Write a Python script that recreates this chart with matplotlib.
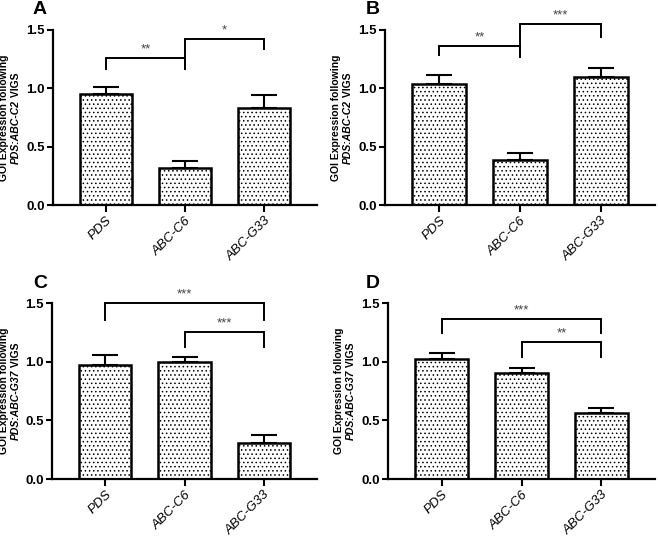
import matplotlib
matplotlib.use('Agg')
import matplotlib.pyplot as plt
import numpy as np

plt.rcParams['font.family'] = ['Liberation Sans', 'DejaVu Sans']
plt.rcParams['hatch.color'] = '#b0b0b0'
plt.rcParams['hatch.linewidth'] = 0.6

groups = ['PDS', 'ABC-C6', 'ABC-G33']

mean_a = [0.95, 0.315, 0.83]
err_a = [0.06, 0.065, 0.11]
mean_b = [1.04, 0.39, 1.10]
err_b = [0.075, 0.06, 0.075]
mean_c = [0.97, 1.00, 0.31]
err_c = [0.09, 0.04, 0.065]
mean_d = [1.02, 0.905, 0.56]
err_d = [0.05, 0.04, 0.045]

# brackets: (left, right, top, left leg end, right leg end, stars)
sig_a = [(0, 1, 1.26, 1.165, 1.165, '**'), (1, 2, 1.42, 1.165, 1.34, '*')]
sig_b = [(0, 1, 1.363, 1.286, 1.286, '**'), (1, 2, 1.55, 1.27, 1.44, '***')]
sig_c = [(0, 2, 1.50, 1.355, 1.355, '***'), (1, 2, 1.253, 1.125, 1.125, '***')]
sig_d = [(0, 2, 1.364, 1.245, 1.245, '***'), (1, 2, 1.168, 1.04, 1.04, '**')]

W, H = 658, 536
fig = plt.figure(figsize=(W / 100, H / 100), dpi=100)
renderer = fig.canvas.get_renderer()


def px_axes(x0, x1, ytop, ybot):
    return fig.add_axes([x0 / W, 1 - ybot / H, (x1 - x0) / W, (ybot - ytop) / H])


def ylab(xl1, xl2, yc, gene):
    fs = 7.5
    fig.text(xl1 / W, 1 - yc / H, 'GOI Expression following', rotation=90,
             ha='center', va='center', fontsize=fs, fontweight='bold')
    part1 = 'PDS:' + gene
    part2 = ' VIGS'
    tmp1 = fig.text(0, 0, part1, rotation=90, fontsize=fs, fontweight='bold', style='italic')
    tmp2 = fig.text(0, 0, part2, rotation=90, fontsize=fs, fontweight='bold')
    h1 = tmp1.get_window_extent(renderer).height
    h2 = tmp2.get_window_extent(renderer).height
    tmp1.remove()
    tmp2.remove()
    ystart = (H - yc) - (h1 + h2) / 2
    fig.text(xl2 / W, ystart / H, part1, rotation=90, ha='center', va='bottom',
             fontsize=fs, fontweight='bold', style='italic')
    fig.text(xl2 / W, (ystart + h1) / H, part2, rotation=90, ha='center', va='bottom',
             fontsize=fs, fontweight='bold')


def panel(ax, means, errs, sigs, letter, lx, ly):
    x = np.arange(len(groups))
    ax.bar(x, means, width=0.66, color='white', edgecolor='black', linewidth=1.8,
           hatch='....', zorder=2)
    ax.errorbar(x, means, yerr=[np.zeros(len(errs)), errs], fmt='none', ecolor='black',
                elinewidth=1.5, capsize=9.5, capthick=1.5, zorder=1)
    for l, r, top, yl, yr, s in sigs:
        ax.plot([l, l, r, r], [yl, top, top, yr], color='black', lw=1.4,
                clip_on=False, solid_joinstyle='miter')
        ax.annotate(s, ((l + r) / 2, top), xytext=(0, 2), textcoords='offset points',
                    ha='center', va='bottom', fontsize=9.5, color='#444444',
                    annotation_clip=False)
    ax.set_xlim(-0.67, 2.67)
    ax.set_ylim(0, 1.5)
    ax.set_yticks([0, 0.5, 1.0, 1.5])
    ax.set_yticklabels(['0.0', '0.5', '1.0', '1.5'], fontweight='bold', fontsize=9.5)
    ax.set_xticks(x)
    ax.set_xticklabels(groups, rotation=45, ha='right', rotation_mode='anchor',
                       fontsize=9.5, style='italic')
    for side in ['top', 'right']:
        ax.spines[side].set_visible(False)
    for side in ['left', 'bottom']:
        ax.spines[side].set_linewidth(1.6)
    ax.tick_params(width=1.5, length=4, pad=2)
    ax.tick_params(axis='x', length=5)
    fig.text(lx / W, 1 - ly / H, letter, fontsize=14, fontweight='bold',
             ha='left', va='center')


ax_a = px_axes(53, 317, 30, 205)
panel(ax_a, mean_a, err_a, sig_a, 'A', 33, 10)
ylab(4, 16, 118, 'ABC-C2')

ax_b = px_axes(385, 655, 30, 205)
panel(ax_b, mean_b, err_b, sig_b, 'B', 366, 10)
ylab(336, 348, 118, 'ABC-C2')

ax_c = px_axes(52, 317, 303, 479)
panel(ax_c, mean_c, err_c, sig_c, 'C', 33, 283)
ylab(4, 16, 391, 'ABC-G37')

ax_d = px_axes(388, 655, 303, 479)
panel(ax_d, mean_d, err_d, sig_d, 'D', 366, 283)
ylab(339, 351, 391, 'ABC-G37')

fig.savefig('out.png', dpi=100)
